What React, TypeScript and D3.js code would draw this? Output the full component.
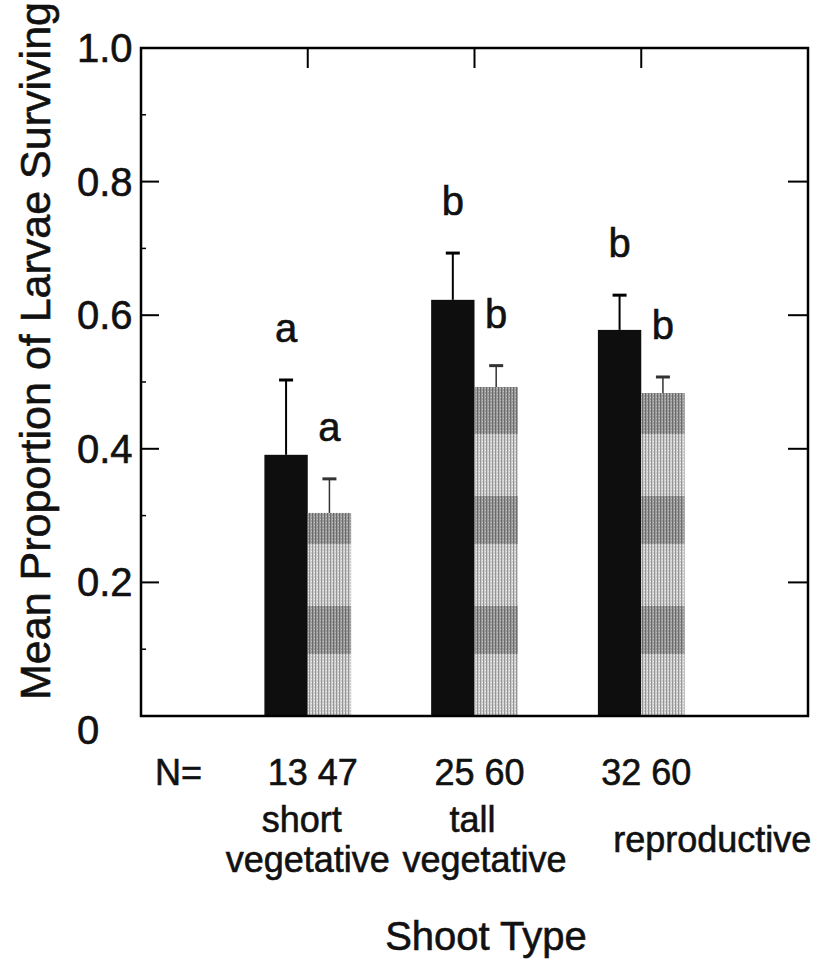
import React from "react";
import * as d3 from "d3";

// ---- data ----
const categoryLines: string[][] = [["short", "vegetative"], ["tall", "vegetative"], ["reproductive"]];
const nFirst = [13, 25, 32];
const nSecond = [47, 60, 60];
const meanFirst = [0.391, 0.623, 0.578];
const errFirst = [0.112, 0.07, 0.052];
const meanSecond = [0.304, 0.4925, 0.4835];
const errSecond = [0.051, 0.032, 0.024];
const letterFirst = ["a", "b", "b"];
const letterSecond = ["a", "b", "b"];
const yTicks = [0, 0.2, 0.4, 0.6, 0.8, 1.0];
const yTickLabels = ["0", "0.2", "0.4", "0.6", "0.8", "1.0"];
const yMinor = [0.1, 0.3, 0.5, 0.7, 0.9];

const W = 819;
const H = 965;
const left = 141, right = 808, top = 48, bottom = 716;
const FONT = "'Liberation Sans', Arial, Helvetica, sans-serif";
const INK = "#111";

export default function App() {
  const x = d3.scaleLinear().domain([0, 4]).range([left, right]);
  const y = d3.scaleLinear().domain([0, 1]).range([bottom, top]);
  const bw = x(0.26) - x(0);
  const cats = d3.range(categoryLines.length);

  const bars = cats.flatMap((i) => [
    { i, x0: x(i + 1) - bw, v: meanFirst[i], e: errFirst[i], letter: letterFirst[i], kind: 0 },
    { i, x0: x(i + 1), v: meanSecond[i], e: errSecond[i], letter: letterSecond[i], kind: 1 },
  ]);

  const textProps = { fill: INK, stroke: INK, strokeWidth: 0.6 };

  return (
    <svg width={W} height={H} style={{ position: "absolute", left: 0, top: 0, background: "#fff" }} fontFamily={FONT}>
      <defs>
        <pattern id="fine" width="3" height="3" patternUnits="userSpaceOnUse">
          <rect width="3" height="3" fill="#cdcdcd" />
          <rect width="1" height="3" fill="#959595" />
          <rect x="2" y="1" width="1" height="1" fill="#eeeeee" />
        </pattern>
        <pattern id="finedark" width="3" height="3" patternUnits="userSpaceOnUse">
          <rect width="3" height="3" fill="#9a9a9a" />
          <rect width="1" height="3" fill="#6a6a6a" />
          <rect x="2" y="2" width="1" height="1" fill="#c0c0c0" />
        </pattern>
        <pattern id="gray" width="42" height="110" patternUnits="userSpaceOnUse" y={bottom}>
          <rect width="42" height="110" fill="url(#fine)" />
          <rect y="0" width="42" height="48" fill="url(#finedark)" />
        </pattern>
      </defs>
      <rect x={0} y={0} width={W} height={H} fill="#fff" />

      {/* bars */}
      {bars.map((b, k) => (
        <rect
          key={"bar" + k}
          x={b.x0}
          y={y(b.v)}
          width={bw}
          height={y(0) - y(b.v)}
          fill={b.kind === 0 ? "#0e0e0e" : "url(#gray)"}
        />
      ))}

      {/* error bars */}
      {bars.map((b, k) => {
        const cx = b.x0 + bw / 2;
        return (
          <g key={"err" + k} stroke={b.kind === 0 ? "#000" : "#333"}>
            <line x1={cx} x2={cx} y1={y(b.v)} y2={y(b.v + b.e)} strokeWidth={b.kind === 0 ? 2 : 1.5} />
            <line x1={cx - 7} x2={cx + 7} y1={y(b.v + b.e)} y2={y(b.v + b.e)} strokeWidth={3} />
          </g>
        );
      })}

      {/* significance letters */}
      {bars.map((b, k) => (
        <text key={"let" + k} x={b.x0 + bw / 2} y={y(b.v + b.e) - 38} fontSize={40} textAnchor="middle" {...textProps}>
          {b.letter}
        </text>
      ))}

      {/* frame */}
      <rect x={left} y={top} width={right - left} height={bottom - top} fill="none" stroke="#000" strokeWidth={2.5} />

      {/* y ticks left & right */}
      {yTicks.filter((t) => t > 0 && t < 1).map((t) => (
        <g key={"yt" + t} stroke="#000" strokeWidth={2}>
          <line x1={left} x2={left + 18} y1={y(t)} y2={y(t)} />
          <line x1={right} x2={right - 20} y1={y(t)} y2={y(t)} />
        </g>
      ))}
      {yMinor.map((t) => (
        <line key={"ym" + t} x1={left} x2={left + 5} y1={y(t)} y2={y(t)} stroke="#000" strokeWidth={1.5} />
      ))}
      {/* top ticks */}
      {cats.map((i) => (
        <line key={"xt" + i} x1={x(i + 1)} x2={x(i + 1)} y1={top} y2={top + 20} stroke="#000" strokeWidth={2} />
      ))}

      {/* y tick labels */}
      {yTicks.map((t, k) => (
        <text key={"yl" + t} x={77} y={y(t) + (t === 0 ? 14 : 0)} fontSize={40} dominantBaseline="central" {...textProps}>
          {yTickLabels[k]}
        </text>
      ))}

      {/* y title */}
      <text transform={`translate(50,351) rotate(-90)`} fontSize={43} textAnchor="middle" {...textProps}>
        Mean Proportion of Larvae Surviving
      </text>

      {/* N row */}
      <text x={155} y={785} fontSize={36} {...textProps}>N=</text>
      {cats.map((i) => (
        <text key={"n" + i} x={x(i + 1) + 5} y={785} fontSize={36} textAnchor="middle" {...textProps}>
          {`${nFirst[i]} ${nSecond[i]}`}
        </text>
      ))}

      {/* category labels */}
      {cats.map((i) => {
        const lines = categoryLines[i];
        if (lines.length === 1) {
          return (
            <text key={"c" + i} x={x(i + 1) + 71} y={852} fontSize={36} textAnchor="middle" {...textProps}>
              {lines[0]}
            </text>
          );
        }
        return (
          <g key={"c" + i}>
            <text x={x(i + 1) - (i === 0 ? 6 : 2)} y={832} fontSize={36} textAnchor="middle" {...textProps}>{lines[0]}</text>
            <text x={x(i + 1) + (i === 0 ? 0 : 10)} y={872} fontSize={36} textAnchor="middle" {...textProps}>{lines[1]}</text>
          </g>
        );
      })}

      {/* x title */}
      <text x={486} y={950} fontSize={40} textAnchor="middle" {...textProps}>Shoot Type</text>
    </svg>
  );
}
